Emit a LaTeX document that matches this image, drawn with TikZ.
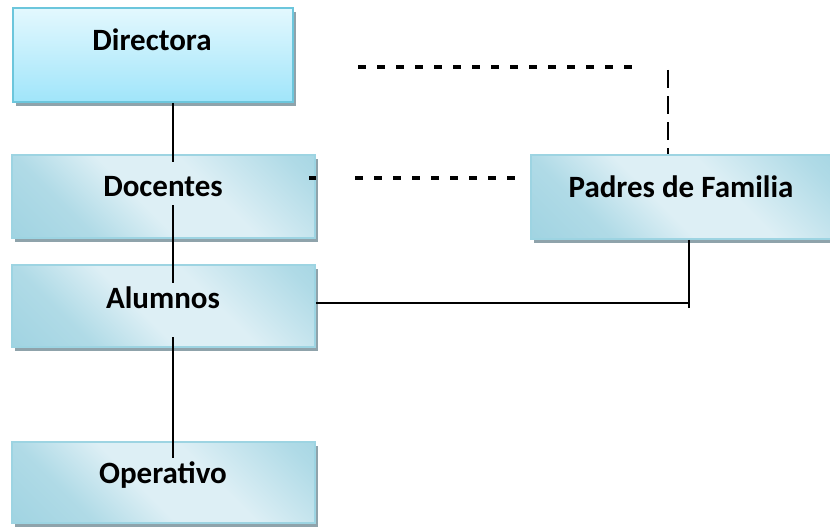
\documentclass[tikz,border=0pt]{standalone}
\usepackage{fontspec}
\setmainfont{Carlito}
\usetikzlibrary{shadows}
\definecolor{dirtop}{HTML}{E3F8FE}
\definecolor{dirbot}{HTML}{A0E5FA}
\definecolor{dirbord}{HTML}{6CC6DC}
\definecolor{bxdark}{HTML}{92CDDD}
\definecolor{bxlight}{HTML}{DDEFF5}
\definecolor{bxbord}{HTML}{9DD4E2}
\definecolor{shd}{HTML}{8FA3AB}
\pgfdeclarehorizontalshading{orgshade}{100bp}{color(0bp)=(bxdark); color(30bp)=(bxdark!60!bxlight); color(45bp)=(bxlight); color(60bp)=(bxlight); color(80bp)=(bxdark!60!bxlight); color(100bp)=(bxdark)}
\tikzset{
  shadowed/.style={general shadow={fill=shd, shadow xshift=3pt, shadow yshift=-4pt}},
  dirbox/.style={shadowed, rectangle, inner sep=0pt, draw=dirbord, line width=1.5pt,
     top color=dirtop, bottom color=dirbot},
  orgbox/.style={shadowed, rectangle, inner sep=0pt, draw=bxbord, line width=1.5pt,
     shading=orgshade, shading angle=45},
  lbl/.style={font=\fontsize{31}{33}\selectfont\bfseries, inner sep=0pt},
  solidln/.style={line width=1.5pt, black},
  dashln/.style={line width=3.5pt, black, dash pattern=on 8pt off 11pt},
  dashv/.style={line width=1.6pt, black, dash pattern=on 18pt off 8pt},
}
\begin{document}
\begin{tikzpicture}[x=1pt,y=-1pt]
\useasboundingbox (0,0) rectangle (830,527);
\begin{scope}
\clip (0,0) rectangle (830,527);
% boxes
\node[dirbox, minimum width=280pt, minimum height=94pt] (dir) at (153,55) {};
\node[orgbox, minimum width=303pt, minimum height=83pt] (doc) at (163.5,196.5) {};
\node[orgbox, minimum width=303pt, minimum height=82pt] (alu) at (163.5,306) {};
\node[orgbox, minimum width=303pt, minimum height=81pt] (ope) at (163.5,482.5) {};
\node[orgbox, minimum width=300pt, minimum height=84pt] (pad) at (681,197) {};
% labels
\node[lbl] (dirt) at (152,40) {Directora};
\node[lbl] (doct) at (163,187) {Docentes};
\node[lbl] (alut) at (163,298) {Alumnos};
\node[lbl] (opet) at (163,475) {Operativo};
\node[lbl] (padt) at (681,187) {Padres de Familia};
% connector end points
\coordinate (c1a) at (dir.south -| 173,0);
\coordinate (c1b) at (173,162);
\coordinate (c2a) at (173,205);
\coordinate (c2b) at (173,283);
\coordinate (c3a) at (173,337);
\coordinate (c3b) at (173,458);
\coordinate (ta) at (358,67);
\coordinate (tb) at (637,67);
\coordinate (va) at (668,70);
\coordinate (vb) at (pad.north -| 668,0);
\coordinate (ma) at (355,178);
\coordinate (mb) at (pad.west |- 0,178);
\coordinate (ka) at (doc.east |- 0,178);
\coordinate (kb) at (309,178);
\coordinate (sa) at (alu.east |- 0,303);
\coordinate (sb) at (689,303);
\coordinate (pa) at (pad.south -| 689,0);
\coordinate (pb) at (689,308);
% solid connectors
\draw[solidln] (c1a) -- (c1b);
\draw[solidln] (c2a) -- (c2b);
\draw[solidln] (c3a) -- (c3b);
\draw[solidln] (sa) -- (sb);
\draw[solidln] (pa) -- (pb);
% dashed connectors
\draw[dashln] (ta) -- (tb);
\draw[dashln] (ma) -- ([xshift=-10pt]mb);
\draw[line width=3.5pt] (ka) -- (kb);
\draw[dashv] (va) -- (vb);
\end{scope}
\end{tikzpicture}
\end{document}
